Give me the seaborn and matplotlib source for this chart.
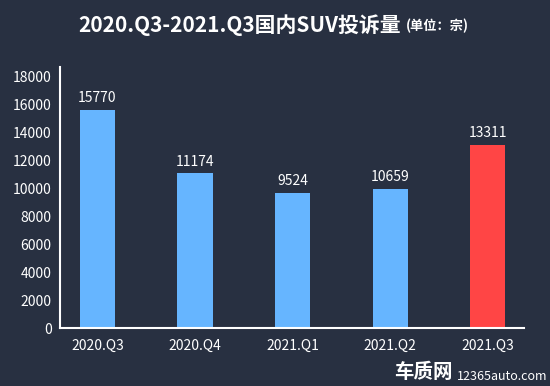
import matplotlib
matplotlib.use("Agg")
import matplotlib.pyplot as plt
import seaborn as sns
import pandas as pd

categories = ["2020.Q3", "2020.Q4", "2021.Q1", "2021.Q2", "2021.Q3"]
bar_heights = [15570, 11050, 9660, 9950, 13090]
bar_labels = ["15770", "11174", "9524", "10659", "13311"]
yticks = [0, 2000, 4000, 6000, 8000, 10000, 12000, 14000, 16000, 18000]

bg = "#283041"
colors = ["#66b5ff", "#66b5ff", "#66b5ff", "#66b5ff", "#ff4545"]

sns.set_style("dark")
plt.rcParams['font.family'] = ['Noto Sans CJK SC', 'DejaVu Sans']

df = pd.DataFrame({"cat": categories, "val": bar_heights})

fig = plt.figure(figsize=(5.5, 3.86), dpi=100, facecolor=bg)
ax = fig.add_axes([0.109, 0.150, 0.844, 0.676])
ax.set_facecolor(bg)
sns.barplot(data=df, x="cat", y="val", hue="cat", palette=colors, legend=False,
            width=0.36, saturation=1, linewidth=0, edgecolor="none", ax=ax)

for i, (h, lab) in enumerate(zip(bar_heights, bar_labels)):
    ax.text(i, h + 350, lab, ha="center", va="bottom", color="white", fontsize=10)

ax.set_xlim(-0.385, 4.375)
ax.set_ylim(0, 18640)
ax.set_yticks(yticks)
ax.set_yticklabels([str(t) for t in yticks])
ax.set_xlabel("")
ax.set_ylabel("")
ax.grid(False)
ax.tick_params(axis="both", length=0, colors="white", labelsize=10)
ax.tick_params(axis="x", pad=8)
ax.tick_params(axis="y", pad=6)
for s in ["top", "right"]:
    ax.spines[s].set_visible(False)
for s in ["left", "bottom"]:
    ax.spines[s].set_visible(True)
    ax.spines[s].set_color("white")
    ax.spines[s].set_linewidth(1.5)

fig.text(0.142, 0.935, "2020.Q3-2021.Q3国内SUV投诉量", ha="left", va="center",
         color="white", fontsize=15, fontweight="bold")
fig.text(0.738, 0.932, "(单位：宗)", ha="left", va="center",
         color="white", fontsize=9.5, fontweight="bold")

fig.text(0.716, 0.036, "车质网", ha="left", va="center", color="white",
         fontsize=14, fontweight="bold")
fig.text(0.830, 0.024, "12365auto.com", ha="left", va="center", color="white",
         fontsize=9)

fig.savefig("out.png", dpi=100, facecolor=bg)
